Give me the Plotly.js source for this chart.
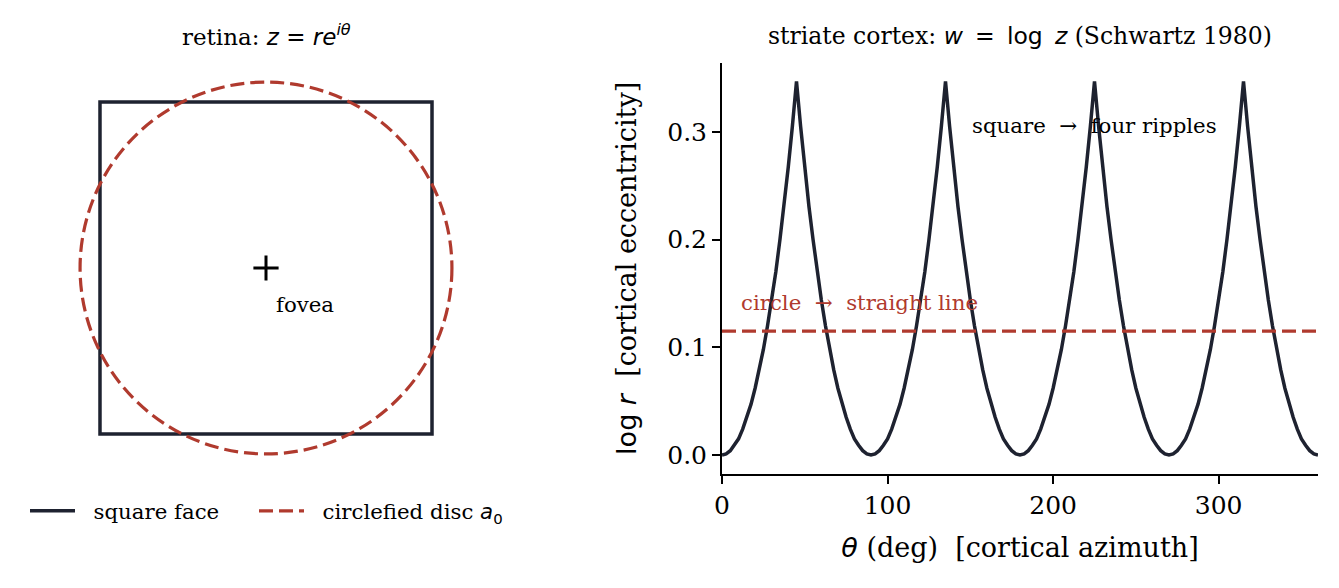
<!DOCTYPE html>
<html>
<head>
<meta charset="utf-8">
<script src="https://cdn.plot.ly/plotly-3.0.1.min.js"></script>
<style>html,body{margin:0;padding:0;background:#fff;}#chart{width:1339px;height:588px;}</style>
</head>
<body>
<div id="chart"></div>
<script>
// ---- data ----
// retina: square face (half-side = 1), traced from its right-edge midpoint
var squareX = [1, 1, -1, -1, 1, 1];
var squareY = [0, 1, 1, -1, -1, 0];
// circlefied disc radius (square half-side units)
var discRadius = 1.12;
// fovea position
var foveaX = [0];
var foveaY = [0];
// cortex: azimuth samples (deg)
var thetaDeg = [0,2.5,5,7.5,10,12.5,15,17.5,20,22.5,25,27.5,30,32.5,35,37.5,40,42.5,45,47.5,50,52.5,55,57.5,60,62.5,65,67.5,70,72.5,75,77.5,80,82.5,85,87.5,
  90,92.5,95,97.5,100,102.5,105,107.5,110,112.5,115,117.5,120,122.5,125,127.5,130,132.5,135,137.5,140,142.5,145,147.5,150,152.5,155,157.5,160,162.5,165,167.5,170,172.5,175,177.5,
  180,182.5,185,187.5,190,192.5,195,197.5,200,202.5,205,207.5,210,212.5,215,217.5,220,222.5,225,227.5,230,232.5,235,237.5,240,242.5,245,247.5,250,252.5,255,257.5,260,262.5,265,267.5,
  270,272.5,275,277.5,280,282.5,285,287.5,290,292.5,295,297.5,300,302.5,305,307.5,310,312.5,315,317.5,320,322.5,325,327.5,330,332.5,335,337.5,340,342.5,345,347.5,350,352.5,355,357.5,360];
// cortex: log r of the square face at each azimuth
var squareLogR = [
  0,0.001,0.004,0.009,0.015,0.024,0.035,0.047,0.062,0.079,0.098,0.120,0.144,0.170,0.200,0.231,0.267,0.305,0.347,0.305,0.267,0.231,0.200,0.170,0.144,0.120,0.098,0.079,0.062,0.047,0.035,0.024,0.015,0.009,0.004,0.001,
  0,0.001,0.004,0.009,0.015,0.024,0.035,0.047,0.062,0.079,0.098,0.120,0.144,0.170,0.200,0.231,0.267,0.305,0.347,0.305,0.267,0.231,0.200,0.170,0.144,0.120,0.098,0.079,0.062,0.047,0.035,0.024,0.015,0.009,0.004,0.001,
  0,0.001,0.004,0.009,0.015,0.024,0.035,0.047,0.062,0.079,0.098,0.120,0.144,0.170,0.200,0.231,0.267,0.305,0.347,0.305,0.267,0.231,0.200,0.170,0.144,0.120,0.098,0.079,0.062,0.047,0.035,0.024,0.015,0.009,0.004,0.001,
  0,0.001,0.004,0.009,0.015,0.024,0.035,0.047,0.062,0.079,0.098,0.120,0.144,0.170,0.200,0.231,0.267,0.305,0.347,0.305,0.267,0.231,0.200,0.170,0.144,0.120,0.098,0.079,0.062,0.047,0.035,0.024,0.015,0.009,0.004,0.001,
  0];
// cortex: log r of the disc (constant)
var discLogRX = [0, 360];
var discLogRY = [0.115, 0.115];
var xTicks = [0, 100, 200, 300];
var yTicks = [0.0, 0.1, 0.2, 0.3];

// ---- styling ----
var DARK = '#1e2230';
var RED = '#b03a2e';
var SERIF = 'DejaVu Serif, serif';
var NB = '\u00a0';
var TH = '\u2009';

var traces = [
  {x: squareX, y: squareY, xaxis: 'x', yaxis: 'y', mode: 'lines', name: NB + NB + 'square face',
   legend: 'legend', line: {color: DARK, width: 3.5}, hoverinfo: 'skip'},
  {x: [null], y: [null], xaxis: 'x', yaxis: 'y', mode: 'lines',
   name: NB + NB + 'circlefied disc <span style="font-family:DejaVu Sans"><i>a</i><sub>0</sub></span>',
   legend: 'legend2', line: {color: RED, width: 3.2, dash: '14px,6px'}, hoverinfo: 'skip'},
  {x: foveaX, y: foveaY, xaxis: 'x', yaxis: 'y', mode: 'markers', showlegend: false,
   marker: {symbol: 'cross-thin', size: 18, color: '#000', line: {color: '#000', width: 3}}, hoverinfo: 'skip'},
  {x: thetaDeg, y: squareLogR, xaxis: 'x2', yaxis: 'y2', mode: 'lines', showlegend: false,
   line: {color: DARK, width: 3.5}, hoverinfo: 'skip'},
  {x: discLogRX, y: discLogRY, xaxis: 'x2', yaxis: 'y2', mode: 'lines', showlegend: false,
   line: {color: RED, width: 3.2, dash: '14px,6px'}, hoverinfo: 'skip'}
];

var W = 1339, H = 588;
function px(a){ return a / W; }
function py(b){ return (H - b) / H; }

var legendBase = {orientation: 'h', xanchor: 'left', y: py(511), yanchor: 'middle',
  bgcolor: 'rgba(0,0,0,0)', font: {family: SERIF, size: 21.3, color: '#000'}, itemwidth: 45};

var layout = {
  width: W, height: H,
  margin: {l: 0, r: 0, t: 0, b: 0},
  paper_bgcolor: '#fff', plot_bgcolor: 'rgba(0,0,0,0)',
  font: {family: SERIF, size: 21, color: '#000'},
  showlegend: true,
  legend: Object.assign({}, legendBase, {x: px(25)}),
  legend2: Object.assign({}, legendBase, {x: px(254)}),
  xaxis: {domain: [px(40), px(492)], range: [-1.3614, 1.3614], visible: false, fixedrange: true},
  yaxis: {domain: [py(476), py(60)], range: [-1.253, 1.253], visible: false, fixedrange: true},
  xaxis2: {domain: [px(722), px(1318)], range: [0, 360], anchor: 'y2',
           tickmode: 'array', tickvals: xTicks, ticktext: xTicks.map(String),
           ticks: 'outside', ticklen: 8, tickwidth: 2, tickcolor: '#000',
           showline: true, linewidth: 2, linecolor: '#000', showgrid: false, zeroline: false,
           tickfont: {family: SERIF, size: 25, color: '#000'},
           title: {text: '<span style="font-family:DejaVu Sans"><i>θ</i></span> (deg)' + NB + ' [cortical azimuth]',
                   font: {family: SERIF, size: 27, color: '#000'}, standoff: 20}},
  yaxis2: {domain: [py(473.6), py(63)], range: [-0.01727, 0.3640], anchor: 'x2',
           tickmode: 'array', tickvals: yTicks, ticktext: yTicks.map(function(v){return v.toFixed(1);}),
           ticks: 'outside', ticklen: 8, tickwidth: 2, tickcolor: '#000',
           showline: true, linewidth: 2, linecolor: '#000', showgrid: false, zeroline: false,
           tickfont: {family: SERIF, size: 25, color: '#000'},
           title: {text: '<span style="font-family:DejaVu Sans">log<i> r</i></span>' + NB + ' [cortical eccentricity]',
                   font: {family: SERIF, size: 27, color: '#000'}, standoff: 23}},
  shapes: [
    {type: 'circle', xref: 'x', yref: 'y', x0: -discRadius, x1: discRadius, y0: -discRadius, y1: discRadius,
     line: {color: RED, width: 3.2, dash: '14px,6px'}, layer: 'above'}
  ],
  annotations: [
    {xref: 'paper', yref: 'paper', x: px(266), y: py(35), xanchor: 'center', yanchor: 'middle', showarrow: false,
     text: 'retina: <span style="font-family:DejaVu Sans"><i>z</i>' + NB + '=' + NB + '<i>re</i><sup><i>iθ</i></sup></span>',
     font: {family: SERIF, size: 23, color: '#000'}},
    {xref: 'paper', yref: 'paper', x: px(1020), y: py(36), xanchor: 'center', yanchor: 'middle', showarrow: false,
     text: 'striate cortex: <span style="font-family:DejaVu Sans"><i>w</i>' + NB + TH + '=' + NB + TH + 'log' + TH + NB + '<i>z</i></span>' + NB + '(Schwartz 1980)',
     font: {family: SERIF, size: 23.5, color: '#000'}},
    {xref: 'x', yref: 'y', x: 0.05, y: -0.217, xanchor: 'left', yanchor: 'middle', showarrow: false,
     text: 'fovea', font: {family: SERIF, size: 21.3, color: '#000'}},
    {xref: 'x2', yref: 'y2', x: 150, y: 0.3055, xanchor: 'left', yanchor: 'middle', showarrow: false,
     text: 'square' + NB + ' →' + NB + ' four ripples', font: {family: SERIF, size: 21.3, color: '#000'}},
    {xref: 'x2', yref: 'y2', x: 10, y: 0.142, xanchor: 'left', yanchor: 'middle', showarrow: false,
     text: 'circle' + NB + ' →' + NB + ' straight line', font: {family: SERIF, size: 21.3, color: RED}}
  ]
};

Plotly.newPlot('chart', traces, layout, {staticPlot: true, displayModeBar: false});
</script>
</body>
</html>
